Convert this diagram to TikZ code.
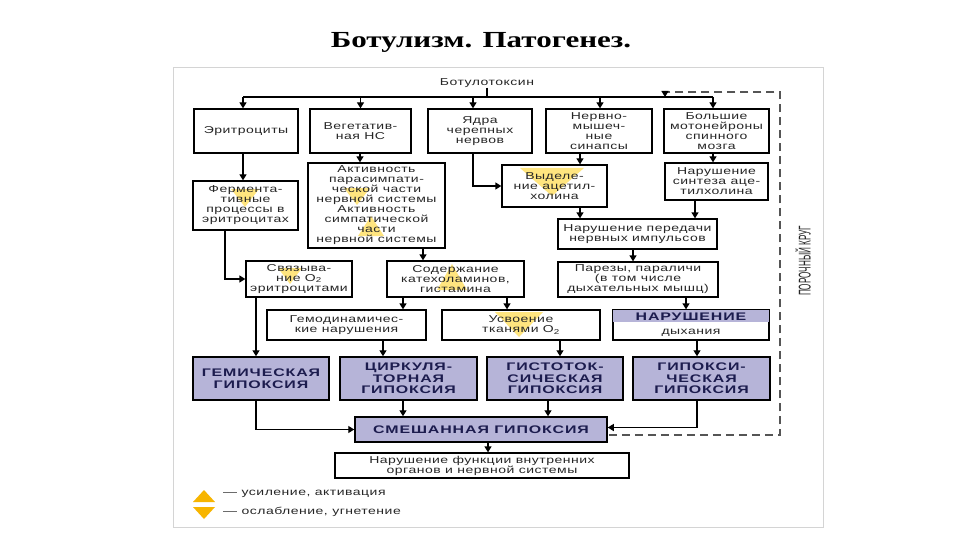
\documentclass[tikz,border=0pt]{standalone}
\usepackage{fontspec}
\usetikzlibrary{arrows.meta,calc}
\newfontfamily\txtfont{Liberation Sans}[FakeStretch=1.4,LetterSpace=5]
\newfontfamily\hypfont{Liberation Sans}[FakeStretch=1.45,LetterSpace=8]
\newfontfamily\ttlfont{Liberation Serif}[FakeStretch=1.35]
\newfontfamily\sidefont{Liberation Sans}[FakeStretch=0.48]
\definecolor{hypfill}{HTML}{B6B4D8}
\definecolor{hyptxt}{HTML}{1C1C4E}
\definecolor{hl}{HTML}{FFDD55}
\definecolor{legy}{HTML}{F7B500}
\definecolor{framegray}{HTML}{D4D4D4}
\definecolor{dashgray}{HTML}{555555}
\tikzset{
  box/.style={draw, line width=1.3pt, inner sep=1pt, align=center,
    font=\txtfont\fontsize{10}{10}\selectfont, text=black!85},
  hyp/.style={draw, line width=1.5pt, fill=hypfill, align=center, inner sep=1pt,
    font=\hypfont\bfseries\fontsize{11}{11.5}\selectfont, text=hyptxt},
  plain/.style={align=center, inner sep=0pt, font=\txtfont\fontsize{10}{10}\selectfont, text=black!85},
  arr/.style={line width=1.3pt, -{Triangle[length=6pt,width=7pt]}},
  con/.style={line width=1.3pt},
  hlt/.style={fill=hl, opacity=0.75},
  loopline/.style={draw=dashgray, line width=1.6pt, dash pattern=on 8pt off 5pt}
}
\begin{document}
\begin{tikzpicture}[x=1pt,y=-1pt]
\useasboundingbox (0,0) rectangle (960,540);
\fill[white] (0,0) rectangle (960,540);
% frame
\draw[framegray, line width=1pt] (173,68) rectangle (823,527);
% title
\node[font=\ttlfont\bfseries\fontsize{23}{25}\selectfont, inner sep=0pt] (title) at (481,42) {Ботулизм. Патогенез.};

% highlight triangles (behind text)
\fill[hlt] (231,189) -- (259,189) -- (245,207) -- cycle;
\fill[hlt] (344,188) -- (370,188) -- (357,205) -- cycle;
\fill[hlt] (358,236) -- (384,236) -- (371,216) -- cycle;
\fill[hlt] (520,168) -- (584,168) -- (552,196) -- cycle;
\fill[hlt] (278,268) -- (302,268) -- (290,284) -- cycle;
\fill[hlt] (437,290) -- (467,290) -- (452,264) -- cycle;
\fill[hlt] (495,312) -- (543,312) -- (519,337) -- cycle;

% top source
\node[plain] (bt) at (487,83) {Ботулотоксин};

% row 1
\node[box, minimum width=104pt, minimum height=44pt] (e1) at (246,131) {Эритроциты};
\node[box, minimum width=101pt, minimum height=44pt] (e2) at (360.5,131) {Вегетатив-\\ная НС};
\node[box, minimum width=104pt, minimum height=44pt] (e3) at (480,131) {Ядра\\черепных\\нервов};
\node[box, minimum width=106pt, minimum height=44pt] (e4) at (599,131) {Нервно-\\мышеч-\\ные\\синапсы};
\node[box, minimum width=105pt, minimum height=44pt] (e5) at (716.5,131) {Большие\\мотонейроны\\спинного\\мозга};

% row 2
\node[box, minimum width=105pt, minimum height=49pt] (f) at (245.5,205.5) {Фермента-\\тивные\\процессы в\\эритроцитах};
\node[box, minimum width=137pt, minimum height=85pt] (a) at (376.5,205.5) {Активность\\парасимпати-\\ческой части\\нервной системы\\Активность\\симпатической\\части\\нервной системы};
\node[box, minimum width=105pt, minimum height=42pt] (v) at (554.5,186) {Выделе-\\ние ацетил-\\холина};
\node[box, minimum width=103pt, minimum height=37pt] (s) at (716.5,181.5) {Нарушение\\синтеза аце-\\тилхолина};

% row 3
\node[box, minimum width=159pt, minimum height=30pt] (p) at (637.5,234) {Нарушение передачи\\нервных импульсов};

% row 4
\node[box, minimum width=106pt, minimum height=36pt] (c) at (299,279) {Связыва-\\ние O\textsubscript{2}\\эритроцитами};
\node[box, minimum width=137pt, minimum height=36pt] (k) at (455.5,279) {Содержание\\катехоламинов,\\гистамина};
\node[box, minimum width=160pt, minimum height=35pt] (z) at (638,279.5) {Парезы, параличи\\(в том числе\\дыхательных мышц)};

% row 5
\node[box, minimum width=159pt, minimum height=30pt] (g) at (346.5,325) {Гемодинамичес-\\кие нарушения};
\node[box, minimum width=158pt, minimum height=30pt] (u) at (521,325) {Усвоение\\тканями O\textsubscript{2}};
\node[box, minimum width=156pt, minimum height=30pt] (n) at (691,325) {};
\fill[hypfill] ($(n.north west)+(0.6,0.6)$) rectangle ($(n.north east)+(-0.6,13)$);
\draw[line width=1.3pt] (n.north west) rectangle (n.south east);
\node[font=\hypfont\bfseries\fontsize{11}{11.5}\selectfont, text=hyptxt, inner sep=0pt] (nt) at ($(n.north)+(0,7)$) {НАРУШЕНИЕ};
\node[plain] (nb) at ($(n.south)+(0,-7.5)$) {дыхания};

% row 6
\node[hyp, minimum width=136pt, minimum height=43pt] (h1) at (261,378.5) {ГЕМИЧЕСКАЯ\\ГИПОКСИЯ};
\node[hyp, minimum width=137pt, minimum height=43pt] (h2) at (408.5,378.5) {ЦИРКУЛЯ-\\ТОРНАЯ\\ГИПОКСИЯ};
\node[hyp, minimum width=136pt, minimum height=43pt] (h3) at (555,378.5) {ГИСТОТОК-\\СИЧЕСКАЯ\\ГИПОКСИЯ};
\node[hyp, minimum width=137pt, minimum height=43pt] (h4) at (701.5,378.5) {ГИПОКСИ-\\ЧЕСКАЯ\\ГИПОКСИЯ};

% row 7, 8
\node[hyp, minimum width=252pt, minimum height=25pt] (m) at (481,429.5) {СМЕШАННАЯ ГИПОКСИЯ};
\node[box, minimum width=294pt, minimum height=25pt] (r) at (482,465.5) {Нарушение функции внутренних\\органов и нервной системы};

% side label
\node[font=\sidefont\fontsize{17}{17}\selectfont, rotate=90, inner sep=0pt, text=black!85] (side) at (803,261) {ПОРОЧНЫЙ КРУГ};

% legend
\fill[legy] (193,502) -- (215,502) -- (204,490) -- cycle;
\fill[legy] (193,507) -- (215,507) -- (204,519) -- cycle;
\node[plain, anchor=west] (l1) at (223,494) {— усиление, активация};
\node[plain, anchor=west] (l2) at (223,512) {— ослабление, угнетение};

% bus from toxin
\coordinate (busL) at (243,97);
\coordinate (busR) at (713,97);
\draw[con] (busL) -- (busR);
\draw[con] (bt.south) -- (bt.south |- busL);
\draw[arr] (busL) -- (e1.north -| busL);
\draw[arr] (e2.north |- busL) -- (e2.north);
\draw[arr] (473,97) -- (e3.north -| 473,0);
\draw[arr] (600,97) -- (e4.north -| 600,0);
\draw[arr] (busR) -- (e5.north -| busR);

% row1 -> row2
\draw[arr] (e1.south -| 243,0) -- (f.north -| 243,0);
\draw[arr] (e2.south -| 360,0) -- (a.north -| 360,0);
\draw[arr] (e3.south -| 473,0) |- (v.west);
\draw[arr] (e4.south -| 580,0) -- (v.north -| 580,0);
\draw[arr] (e5.south -| 713,0) -- (s.north -| 713,0);

% row2 -> row3/4
\draw[arr] (v.south -| 580,0) -- (p.north -| 580,0);
\draw[arr] (s.south -| 695,0) -- (p.north -| 695,0);
\draw[arr] (f.south -| 225,0) |- (c.west);
\draw[arr] (a.south -| 423,0) -- (k.north -| 423,0);
\draw[arr] (p.south -| 633,0) -- (z.north -| 633,0);

% row4 -> row5/6
\draw[arr] (k.south -| 403,0) -- (g.north -| 403,0);
\draw[arr] (k.south -| 507,0) -- (u.north -| 507,0);
\draw[arr] (z.south -| 686,0) -- (n.north -| 686,0);
\draw[arr] (c.south -| 256,0) -- (h1.north -| 256,0);
\draw[arr] (g.south -| 383,0) -- (h2.north -| 383,0);
\draw[arr] (u.south -| 560,0) -- (h3.north -| 560,0);
\draw[arr] (n.south -| 697,0) -- (h4.north -| 697,0);

% row6 -> mixed
\draw[arr] (h1.south -| 256,0) |- (m.west);
\draw[arr] (h2.south -| 403,0) -- (m.north -| 403,0);
\draw[arr] (h3.south -| 548,0) -- (m.north -| 548,0);
\draw[arr] (h4.south -| 697,0) |- ($(m.east)+(0,-2)$);
\draw[arr] (m.south -| 488,0) -- (r.north -| 488,0);

% vicious circle (dashed loop)
\coordinate (lp1) at (780,435);
\coordinate (lp2) at (780,92);
\coordinate (lp3) at (665,92);
\coordinate (lp4) at (665,97);
\draw[loopline] ($(m.east)+(1,5.5)$) -- (lp1) -- (lp2) -- (lp3);
\draw[arr] ($(lp3)+(0,-1)$) -- (lp4);
\end{tikzpicture}
\end{document}
